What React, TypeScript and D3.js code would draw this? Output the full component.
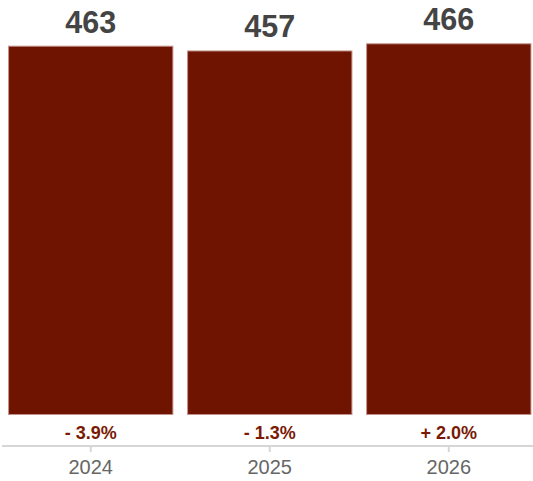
import React from "react";
import * as d3 from "d3";

const years = ["2024", "2025", "2026"];
const values = [463, 457, 466];
const changes = ["- 3.9%", "- 1.3%", "+ 2.0%"];

const W = 533;
const H = 481;
const FONT = "'Liberation Sans', Arial, Helvetica, sans-serif";

export default function App() {
  const x = d3
    .scaleBand<string>()
    .domain(years)
    .range([1.2, 538.3])
    .paddingInner(0.082)
    .paddingOuter(0.041);
  const y = d3.scaleLinear().domain([0, 466]).range([414.5, 43.8]);
  const axisY = 446;

  return (
    <svg
      width={W}
      height={H}
      style={{ position: "absolute", left: 0, top: 0, fontFamily: FONT }}
    >
      <rect x={0} y={0} width={W} height={H} fill="#ffffff" />
      {years.map((yr, i) => {
        const bx = x(yr)!;
        const bw = x.bandwidth();
        const cx = bx + bw / 2;
        const top = y(values[i]);
        return (
          <g key={yr}>
            <rect
              x={bx}
              y={top}
              width={bw}
              height={y(0) - top}
              fill="#6e1400"
              stroke="#c4928c"
              strokeWidth={1}
            />
            <text
              x={cx}
              y={top - 13.5}
              textAnchor="middle"
              fontSize={30.5}
              fontWeight="bold"
              fill="#444444"
            >
              {values[i]}
            </text>
            <text
              x={cx}
              y={439}
              textAnchor="middle"
              fontSize={18}
              fontWeight="bold"
              fill="#7a1a05"
            >
              {changes[i]}
            </text>
            <line
              x1={cx}
              x2={cx}
              y1={axisY}
              y2={452}
              stroke="#d6d6d6"
              strokeWidth={2}
            />
            <text
              x={cx}
              y={474}
              textAnchor="middle"
              fontSize={20}
              fill="#666666"
            >
              {yr}
            </text>
          </g>
        );
      })}
      <line x1={2} x2={W} y1={axisY} y2={axisY} stroke="#d6d6d6" strokeWidth={2} />
    </svg>
  );
}
